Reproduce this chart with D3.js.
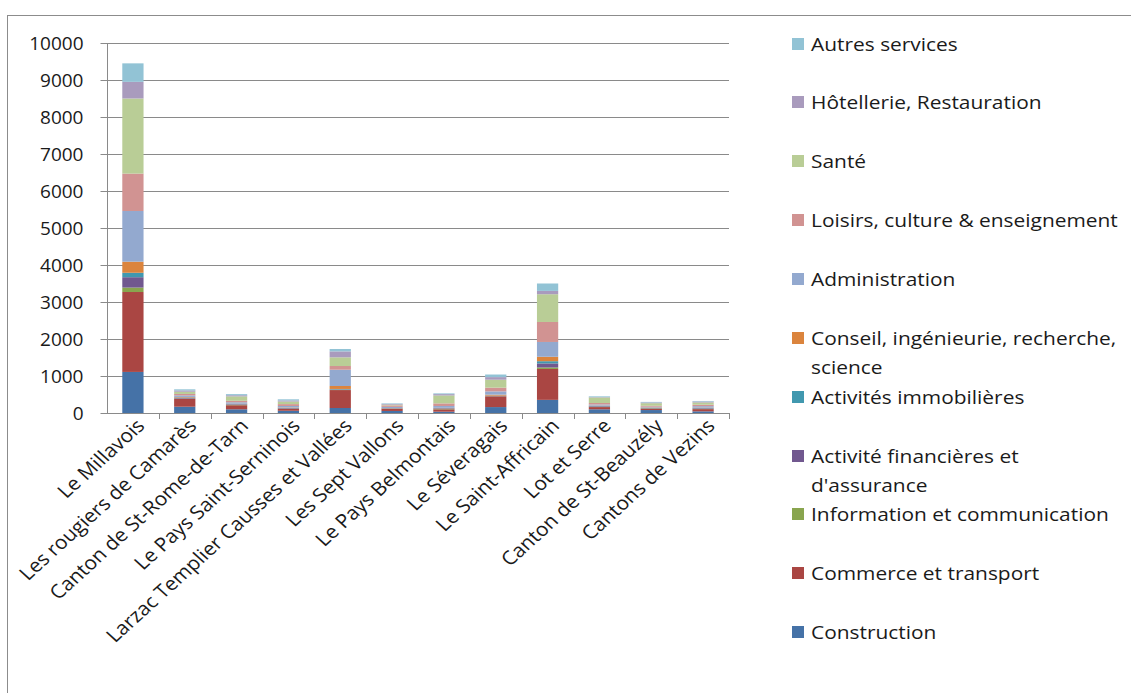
<!DOCTYPE html>
<html>
<head>
<meta charset="utf-8">
<script src="https://cdn.jsdelivr.net/npm/d3@7"></script>
<style>
  html, body { margin: 0; padding: 0; background: #fff; }
  svg { display: block; }
  text { font-family: "Open Sans", sans-serif; fill: #1a1a1a; }
</style>
</head>
<body>
<svg id="chart" width="1131" height="693"></svg>
<script>
// Territories along the x axis
const categories = [
  "Le Millavois", "Les rougiers de Camarès", "Canton de St-Rome-de-Tarn",
  "Le Pays Saint-Serninois", "Larzac Templier Causses et Vallées", "Les Sept Vallons",
  "Le Pays Belmontais", "Le Séveragais", "Le Saint-Affricain", "Lot et Serre",
  "Canton de St-Beauzély", "Cantons de Vezins"
];

// Jobs per sector, one value per territory (stacked bottom to top)
const construction   = [1110, 170, 100, 60, 135, 55, 35, 160, 355, 100, 80, 45];
const commerce       = [2160, 210, 110, 50, 485, 55, 65, 290, 835, 60, 30, 60];
const information    = [120, 10, 10, 10, 10, 5, 10, 5, 40, 10, 15, 10];
const financieres    = [280, 20, 15, 15, 10, 10, 15, 10, 110, 15, 10, 15];
const immobilieres   = [120, 10, 5, 5, 10, 5, 5, 5, 60, 5, 5, 5];
const conseil        = [300, 15, 10, 10, 80, 5, 10, 25, 120, 10, 10, 10];
const administration = [1370, 40, 40, 40, 440, 30, 50, 90, 400, 30, 20, 40];
const loisirs        = [1010, 40, 40, 50, 100, 40, 70, 100, 540, 40, 25, 40];
const sante          = [2030, 60, 120, 70, 235, 20, 215, 215, 750, 150, 70, 60];
const hotellerie     = [450, 35, 30, 30, 160, 20, 35, 70, 90, 10, 20, 25];
const autres         = [500, 30, 30, 30, 65, 15, 20, 70, 200, 20, 15, 15];

const yTicks = [0, 1000, 2000, 3000, 4000, 5000, 6000, 7000, 8000, 9000, 10000];

const series = [
  { key: "construction",   name: "Construction",                         values: construction,   color: "#4572A7" },
  { key: "commerce",       name: "Commerce et transport",                values: commerce,       color: "#AA4643" },
  { key: "information",    name: "Information et communication",         values: information,    color: "#89A54E" },
  { key: "financieres",    name: "Activité financières et\nd'assurance", values: financieres,    color: "#71588F" },
  { key: "immobilieres",   name: "Activités immobilières",               values: immobilieres,   color: "#4198AF" },
  { key: "conseil",        name: "Conseil, ingénieurie, recherche,\nscience", values: conseil,   color: "#DB843D" },
  { key: "administration", name: "Administration",                       values: administration, color: "#93A9CF" },
  { key: "loisirs",        name: "Loisirs, culture & enseignement",      values: loisirs,        color: "#D19392" },
  { key: "sante",          name: "Santé",                                values: sante,          color: "#B9CD96" },
  { key: "hotellerie",     name: "Hôtellerie, Restauration",             values: hotellerie,     color: "#A99BBD" },
  { key: "autres",         name: "Autres services",                      values: autres,         color: "#92C3D5" }
];

const rows = categories.map((c, i) => {
  const r = { category: c };
  series.forEach(s => { r[s.key] = s.values[i]; });
  return r;
});

// text is drawn slightly widened horizontally
const stretch = 1.1;

const svg = d3.select("#chart");

// outer frame
svg.append("rect")
  .attr("x", 7.5).attr("y", 15.5)
  .attr("width", 1140).attr("height", 700)
  .attr("fill", "none").attr("stroke", "#8c8c8c").attr("stroke-width", 1);

const plot = { left: 107, right: 729, top: 43, bottom: 413 };

const x = d3.scaleBand()
  .domain(categories)
  .range([plot.left, plot.right])
  .paddingInner(0.59).paddingOuter(0.295);

const xOuter = d3.scaleBand().domain(categories).range([plot.left, plot.right]);

const y = d3.scaleLinear().domain([0, 10000]).range([plot.bottom, plot.top]);

// horizontal gridlines
svg.append("g")
  .selectAll("line")
  .data(yTicks.filter(t => t > 0))
  .join("line")
  .attr("x1", plot.left).attr("x2", plot.right)
  .attr("y1", d => Math.round(y(d)) + 0.5).attr("y2", d => Math.round(y(d)) + 0.5)
  .attr("stroke", "#8a8a8a").attr("stroke-width", 1);

// stacked bars
const stack = d3.stack().keys(series.map(s => s.key));
const stacked = stack(rows);

svg.append("g")
  .selectAll("g")
  .data(stacked)
  .join("g")
  .attr("fill", (d, i) => series[i].color)
  .selectAll("rect")
  .data(d => d)
  .join("rect")
  .attr("x", d => x(d.data.category))
  .attr("width", x.bandwidth())
  .attr("y", d => y(d[1]))
  .attr("height", d => y(d[0]) - y(d[1]));

// y axis
const yAxis = svg.append("g")
  .attr("transform", `translate(${plot.left + 0.5},0)`)
  .call(d3.axisLeft(y).tickValues(yTicks).tickSize(7).tickPadding(17).tickFormat(d3.format("d")));
yAxis.selectAll("path, line").attr("stroke", "#8a8a8a");
yAxis.selectAll("text").attr("font-size", 19).style("font-family", "'Open Sans', sans-serif").attr("fill", "#1a1a1a");
yAxis.select(".domain").attr("d", `M0,${plot.top}V${plot.bottom}`);

// x axis with separators between categories
const xg = svg.append("g");
xg.append("line")
  .attr("x1", plot.left).attr("x2", plot.right)
  .attr("y1", plot.bottom + 0.5).attr("y2", plot.bottom + 0.5)
  .attr("stroke", "#8a8a8a");
xg.selectAll("line.sep")
  .data(categories.slice(1).concat(["__end"]))
  .join("line")
  .attr("class", "sep")
  .attr("x1", d => d === "__end" ? plot.right + 0.5 : Math.round(xOuter(d)) + 0.5)
  .attr("x2", d => d === "__end" ? plot.right + 0.5 : Math.round(xOuter(d)) + 0.5)
  .attr("y1", plot.bottom).attr("y2", plot.bottom + 6)
  .attr("stroke", "#8a8a8a");

xg.selectAll("text")
  .data(categories)
  .join("text")
  .attr("transform", d => `translate(${x(d) + x.bandwidth() / 2 + 13},${plot.bottom + 14}) scale(${stretch},1) rotate(-45)`)
  .attr("text-anchor", "end")
  .attr("font-size", 19)
  .text(d => d);

// legend
const legend = svg.append("g");
const legendItems = series.slice().reverse();
const legendY = [44, 102, 161, 220, 279, 338, 397, 456, 514, 573, 632];
legendItems.forEach((s, i) => {
  const g = legend.append("g").attr("transform", `translate(0,${legendY[i]})`);
  g.append("rect").attr("x", 792).attr("y", -6).attr("width", 12).attr("height", 12).attr("fill", s.color);
  const lines = s.name.split("\n");
  lines.forEach((ln, j) => {
    g.append("text")
      .attr("transform", `translate(811,${j * 29}) scale(${stretch},1)`)
      .attr("dy", "0.35em")
      .attr("font-size", 19)
      .text(ln);
  });
});
</script>
</body>
</html>
